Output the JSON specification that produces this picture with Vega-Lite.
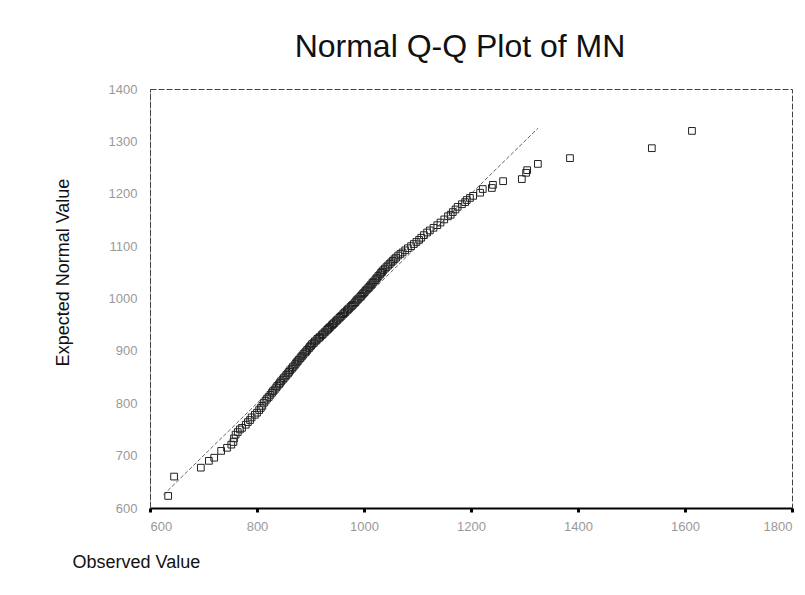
{
  "$schema": "https://vega.github.io/schema/vega-lite/v6.json",
  "autosize": {"type": "none"},
  "padding": {"left": 150, "top": 89, "right": 13, "bottom": 87},
  "width": 642,
  "height": 419,
  "background": "white",
  "title": {
    "text": "Normal Q-Q Plot of MN",
    "font": "Liberation Sans",
    "fontSize": 32,
    "fontWeight": "normal",
    "color": "#111",
    "anchor": "middle",
    "dx": -11,
    "offset": 19
  },
  "config": {
    "view": {"stroke": "#444", "strokeWidth": 1, "strokeDash": [6, 2]},
    "axis": {
      "grid": false,
      "labelFont": "Liberation Sans",
      "labelFontSize": 13,
      "labelColor": "#999",
      "titleFont": "Liberation Sans",
      "titleFontSize": 18,
      "titleFontWeight": "normal",
      "titleColor": "#111"
    }
  },
  "datasets": {
    "points": [
      {"obs": 634, "exp": 623}, {"obs": 645, "exp": 660}, {"obs": 695, "exp": 677}, {"obs": 710, "exp": 690},
      {"obs": 720, "exp": 696}, {"obs": 733, "exp": 709}, {"obs": 744, "exp": 715}, {"obs": 752, "exp": 721},
      {"obs": 756, "exp": 726}, {"obs": 757, "exp": 733}, {"obs": 760, "exp": 740}, {"obs": 764, "exp": 745},
      {"obs": 768, "exp": 750}, {"obs": 772, "exp": 753}, {"obs": 779, "exp": 759}, {"obs": 783, "exp": 764},
      {"obs": 787, "exp": 768}, {"obs": 790, "exp": 773}, {"obs": 796, "exp": 778}, {"obs": 800, "exp": 782},
      {"obs": 804, "exp": 787}, {"obs": 807, "exp": 791}, {"obs": 810, "exp": 795}, {"obs": 813, "exp": 801},
      {"obs": 816, "exp": 805}, {"obs": 819, "exp": 809}, {"obs": 822, "exp": 812}, {"obs": 825, "exp": 816},
      {"obs": 828, "exp": 820}, {"obs": 830, "exp": 823}, {"obs": 833, "exp": 826}, {"obs": 836, "exp": 830},
      {"obs": 838, "exp": 833}, {"obs": 841, "exp": 836}, {"obs": 843, "exp": 839}, {"obs": 845, "exp": 842},
      {"obs": 848, "exp": 845}, {"obs": 850, "exp": 848}, {"obs": 853, "exp": 851}, {"obs": 855, "exp": 854},
      {"obs": 858, "exp": 857}, {"obs": 860, "exp": 860}, {"obs": 862, "exp": 863}, {"obs": 865, "exp": 866},
      {"obs": 867, "exp": 869}, {"obs": 870, "exp": 872}, {"obs": 872, "exp": 875}, {"obs": 874, "exp": 878},
      {"obs": 876, "exp": 880}, {"obs": 878, "exp": 883}, {"obs": 881, "exp": 886}, {"obs": 883, "exp": 889},
      {"obs": 885, "exp": 891}, {"obs": 887, "exp": 894}, {"obs": 890, "exp": 897}, {"obs": 892, "exp": 899},
      {"obs": 894, "exp": 902}, {"obs": 897, "exp": 905}, {"obs": 899, "exp": 908}, {"obs": 901, "exp": 910},
      {"obs": 903, "exp": 913}, {"obs": 906, "exp": 915}, {"obs": 908, "exp": 918}, {"obs": 911, "exp": 920},
      {"obs": 913, "exp": 923}, {"obs": 916, "exp": 925}, {"obs": 918, "exp": 927}, {"obs": 921, "exp": 930},
      {"obs": 923, "exp": 932}, {"obs": 926, "exp": 935}, {"obs": 928, "exp": 937}, {"obs": 931, "exp": 940},
      {"obs": 933, "exp": 942}, {"obs": 935, "exp": 944}, {"obs": 937, "exp": 946}, {"obs": 940, "exp": 949},
      {"obs": 942, "exp": 951}, {"obs": 944, "exp": 953}, {"obs": 947, "exp": 956}, {"obs": 949, "exp": 958},
      {"obs": 951, "exp": 960}, {"obs": 954, "exp": 963}, {"obs": 956, "exp": 965}, {"obs": 958, "exp": 967},
      {"obs": 961, "exp": 970}, {"obs": 963, "exp": 972}, {"obs": 965, "exp": 974}, {"obs": 968, "exp": 977},
      {"obs": 970, "exp": 979}, {"obs": 972, "exp": 981}, {"obs": 975, "exp": 984}, {"obs": 977, "exp": 986},
      {"obs": 979, "exp": 988}, {"obs": 982, "exp": 991}, {"obs": 984, "exp": 993}, {"obs": 986, "exp": 996},
      {"obs": 988, "exp": 998}, {"obs": 990, "exp": 1000}, {"obs": 993, "exp": 1003}, {"obs": 995, "exp": 1005},
      {"obs": 997, "exp": 1008}, {"obs": 999, "exp": 1010}, {"obs": 1001, "exp": 1012}, {"obs": 1003, "exp": 1015},
      {"obs": 1005, "exp": 1017}, {"obs": 1008, "exp": 1020}, {"obs": 1010, "exp": 1022}, {"obs": 1012, "exp": 1025},
      {"obs": 1014, "exp": 1027}, {"obs": 1016, "exp": 1030}, {"obs": 1018, "exp": 1032}, {"obs": 1021, "exp": 1035},
      {"obs": 1023, "exp": 1038}, {"obs": 1025, "exp": 1040}, {"obs": 1027, "exp": 1043}, {"obs": 1030, "exp": 1046},
      {"obs": 1032, "exp": 1049}, {"obs": 1034, "exp": 1051}, {"obs": 1036, "exp": 1054}, {"obs": 1039, "exp": 1057},
      {"obs": 1042, "exp": 1060}, {"obs": 1045, "exp": 1063}, {"obs": 1048, "exp": 1066}, {"obs": 1051, "exp": 1069},
      {"obs": 1054, "exp": 1072}, {"obs": 1057, "exp": 1075}, {"obs": 1060, "exp": 1078}, {"obs": 1064, "exp": 1082},
      {"obs": 1068, "exp": 1085}, {"obs": 1072, "exp": 1088}, {"obs": 1077, "exp": 1092}, {"obs": 1082, "exp": 1096},
      {"obs": 1088, "exp": 1100}, {"obs": 1093, "exp": 1104}, {"obs": 1098, "exp": 1108}, {"obs": 1103, "exp": 1112},
      {"obs": 1107, "exp": 1116}, {"obs": 1112, "exp": 1121}, {"obs": 1118, "exp": 1126}, {"obs": 1123, "exp": 1130},
      {"obs": 1130, "exp": 1135}, {"obs": 1137, "exp": 1140}, {"obs": 1143, "exp": 1145}, {"obs": 1150, "exp": 1151},
      {"obs": 1157, "exp": 1157}, {"obs": 1162, "exp": 1160}, {"obs": 1166, "exp": 1165}, {"obs": 1171, "exp": 1170},
      {"obs": 1175, "exp": 1175}, {"obs": 1183, "exp": 1180}, {"obs": 1189, "exp": 1184}, {"obs": 1192, "exp": 1188},
      {"obs": 1198, "exp": 1192}, {"obs": 1204, "exp": 1196}, {"obs": 1217, "exp": 1202}, {"obs": 1222, "exp": 1209},
      {"obs": 1239, "exp": 1211}, {"obs": 1241, "exp": 1217}, {"obs": 1260, "exp": 1224}, {"obs": 1295, "exp": 1228},
      {"obs": 1303, "exp": 1240}, {"obs": 1305, "exp": 1245}, {"obs": 1325, "exp": 1257}, {"obs": 1385, "exp": 1268},
      {"obs": 1538, "exp": 1287}, {"obs": 1613, "exp": 1320}
    ],
    "ref": [
      {"obs": 625, "exp": 625},
      {"obs": 1325, "exp": 1325}
    ]
  },
  "layer": [
    {
      "data": {"name": "ref"},
      "mark": {"type": "line", "color": "#666", "strokeWidth": 1, "strokeDash": [4, 2]},
      "encoding": {
        "x": {"field": "obs", "type": "quantitative"},
        "y": {"field": "exp", "type": "quantitative"}
      }
    },
    {
      "data": {"name": "points"},
      "mark": {"type": "point", "shape": "square", "filled": false, "size": 45, "stroke": "#222", "strokeWidth": 1, "opacity": 1},
      "encoding": {
        "x": {
          "field": "obs",
          "type": "quantitative",
          "scale": {"domain": [600, 1800], "nice": false, "zero": false},
          "axis": {
            "title": "Observed Value",
            "format": "d",
            "values": [600, 800, 1000, 1200, 1400, 1600, 1800],
            "domainColor": "#000",
            "domainWidth": 2,
            "tickColor": "#000",
            "tickWidth": 3,
            "tickSize": 4,
            "labelPadding": 8,
            "titleAnchor": "start",
            "titleAlign": "left",
            "titleBaseline": "middle",
            "titleX": -78,
            "titleY": 54
          }
        },
        "y": {
          "field": "exp",
          "type": "quantitative",
          "scale": {"domain": [600, 1400], "nice": false, "zero": false},
          "axis": {
            "title": "Expected Normal Value",
            "format": "d",
            "values": [600, 700, 800, 900, 1000, 1100, 1200, 1300, 1400],
            "domainColor": "#444",
            "domainDash": [6, 2],
            "ticks": false,
            "labelPadding": 13,
            "titleX": -87,
            "titleY": 183,
            "titleAngle": -90,
            "titleAlign": "center",
            "titleBaseline": "middle"
          }
        }
      }
    }
  ]
}
